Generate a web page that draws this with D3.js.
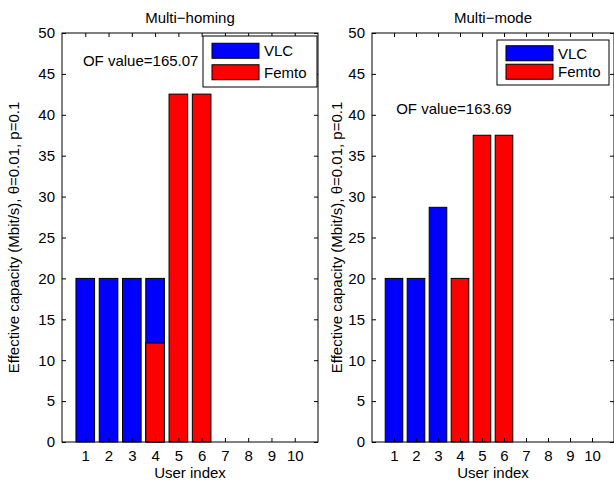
<!DOCTYPE html>
<html>
<head>
<meta charset="utf-8">
<script src="https://cdn.jsdelivr.net/npm/d3@7/dist/d3.min.js"></script>
<style>
  html, body { margin: 0; padding: 0; background: #fff; }
  svg { display: block; }
  text { font-family: "Liberation Sans", Arial, Helvetica, sans-serif; fill: #000; }
</style>
</head>
<body>
<svg id="chart" width="614" height="483"></svg>
<script>
// ---------------- data ----------------
const users = [1, 2, 3, 4, 5, 6, 7, 8, 9, 10];
const yTicks = [0, 5, 10, 15, 20, 25, 30, 35, 40, 45, 50];
const seriesNames = ["VLC", "Femto"];
const seriesColors = ["#0000ff", "#ff0000"];

const homingVLC   = [20, 20, 20, 20, 0, 0, 0, 0, 0, 0];
const homingFemto = [0, 0, 0, 12.1, 42.53, 42.53, 0, 0, 0, 0];
const modeVLC     = [20, 20, 28.69, 0, 0, 0, 0, 0, 0, 0];
const modeFemto   = [0, 0, 0, 20, 37.5, 37.5, 0, 0, 0, 0];

const titles = ["Multi\u2212homing", "Multi\u2212mode"];
const ofTexts = ["OF value=165.07", "OF value=163.69"];
const xLabel = "User index";
const yLabel = "Effective capacity (Mbit/s), \u03b8=0.01, p=0.1";

// ---------------- layout ----------------
const FS = 15;
const svg = d3.select("#chart");

const panels = [
  { x0: 62, x1: 318, y0: 33, y1: 442, vlc: homingVLC, femto: homingFemto,
    title: titles[0], of: ofTexts[0], ofPos: [0.9, 46.6], ylabX: 14,
    legend: { x: 203, y: 36, w: 114, h: 51 } },
  { x0: 372, x1: 614, y0: 33, y1: 442, vlc: modeVLC, femto: modeFemto,
    title: titles[1], of: ofTexts[1], ofPos: [1.1, 40.8], ylabX: 337,
    legend: { x: 497, y: 40, w: 112, h: 45 } }
];

panels.forEach(p => {
  const g = svg.append("g");
  const x = d3.scaleLinear().domain([0, 11]).range([p.x0, p.x1]);
  const y = d3.scaleLinear().domain([0, 50]).range([p.y1, p.y0]);
  const bw = (x(1) - x(0)) * 0.8;

  // white background of axes
  g.append("rect").attr("x", p.x0).attr("y", p.y0)
    .attr("width", p.x1 - p.x0).attr("height", p.y1 - p.y0).attr("fill", "#fff");

  // bars: VLC first, then Femto overlaid
  [p.vlc, p.femto].forEach((vals, si) => {
    g.selectAll(null).data(users.map((u, i) => ({ u, v: vals[i] })).filter(d => d.v > 0))
      .enter().append("rect")
      .attr("x", d => x(d.u) - bw / 2)
      .attr("y", d => y(d.v))
      .attr("width", bw)
      .attr("height", d => y(0) - y(d.v))
      .attr("fill", seriesColors[si])
      .attr("stroke", "#000")
      .attr("stroke-width", 1);
  });

  // axes (ticks inward, box)
  const tl = 4;
  const axB = d3.axisBottom(x).tickValues(users).tickSize(-tl).tickPadding(8).tickFormat(d3.format("d"));
  const axT = d3.axisTop(x).tickValues(users).tickSize(-tl).tickFormat("");
  const axL = d3.axisLeft(y).tickValues(yTicks).tickSize(-tl).tickPadding(7);
  const axR = d3.axisRight(y).tickValues(yTicks).tickSize(-tl).tickFormat("");

  const styleAx = sel => {
    sel.select(".domain").remove();
    sel.selectAll(".tick line").attr("stroke", "#000");
    sel.selectAll(".tick text").style("font-size", FS + "px")
      .style("font-family", '"Liberation Sans", Arial, Helvetica, sans-serif');
  };
  g.append("g").attr("transform", `translate(0,${p.y1})`).call(axB).call(styleAx);
  g.append("g").attr("transform", `translate(0,${p.y0})`).call(axT).call(styleAx);
  g.append("g").attr("transform", `translate(${p.x0},0)`).call(axL).call(styleAx);
  g.append("g").attr("transform", `translate(${p.x1},0)`).call(axR).call(styleAx);

  g.append("rect").attr("x", p.x0).attr("y", p.y0)
    .attr("width", p.x1 - p.x0).attr("height", p.y1 - p.y0)
    .attr("fill", "none").attr("stroke", "#000").attr("stroke-width", 1);

  // title
  g.append("text").attr("x", (p.x0 + p.x1) / 2).attr("y", 23)
    .attr("text-anchor", "middle").style("font-size", FS + "px").text(p.title);

  // x label
  g.append("text").attr("x", (p.x0 + p.x1) / 2).attr("y", 478)
    .attr("text-anchor", "middle").style("font-size", FS + "px").text(xLabel);

  // y label
  g.append("text")
    .attr("transform", `translate(${p.ylabX + 5},${(p.y0 + p.y1) / 2}) rotate(-90)`)
    .attr("text-anchor", "middle").style("font-size", FS + "px").text(yLabel);

  // OF annotation
  g.append("text").attr("x", x(p.ofPos[0])).attr("y", y(p.ofPos[1]))
    .attr("dy", "0.35em").style("font-size", FS + "px").text(p.of);

  // legend
  const L = p.legend;
  const lg = g.append("g");
  lg.append("rect").attr("x", L.x).attr("y", L.y).attr("width", L.w).attr("height", L.h)
    .attr("fill", "#fff").attr("stroke", "#000").attr("stroke-width", 1);
  const rowH = (L.h - 8) / 2;
  seriesNames.forEach((name, i) => {
    const cy = L.y + 4 + rowH * (i + 0.5);
    lg.append("rect").attr("x", L.x + 9).attr("y", cy - 7.5).attr("width", 47).attr("height", 15)
      .attr("fill", seriesColors[i]).attr("stroke", "#000").attr("stroke-width", 1);
    lg.append("text").attr("x", L.x + 61).attr("y", cy).attr("dy", "0.35em")
      .style("font-size", FS + "px").text(name);
  });
});
</script>
</body>
</html>
